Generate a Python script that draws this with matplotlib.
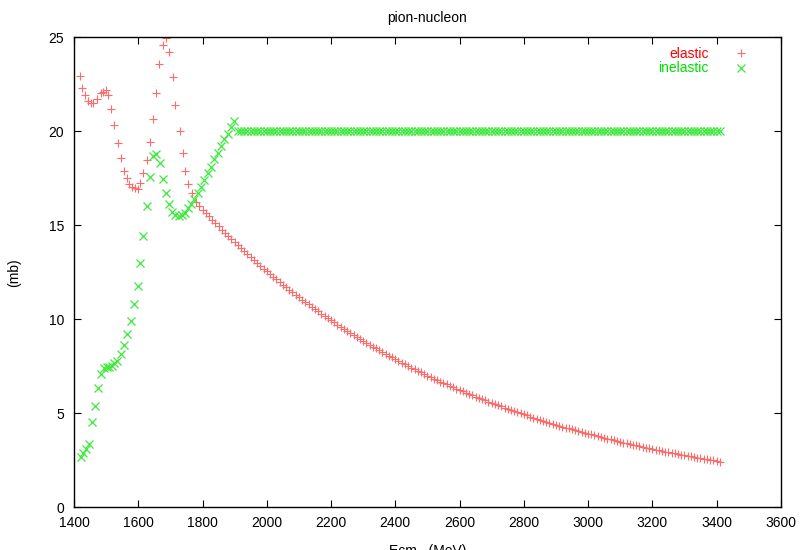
import numpy as np
import matplotlib
matplotlib.use("Agg")
import matplotlib.pyplot as plt

plt.rcParams['font.family'] = ['Liberation Sans', 'DejaVu Sans']

# elastic cross section, resonance region (MeV, mb)
el_e = [1418, 1426, 1434, 1445, 1454, 1460, 1471, 1484, 1491, 1499,
        1507, 1514, 1525, 1537, 1546, 1556, 1564, 1572, 1580, 1589,
        1598, 1606, 1616, 1626, 1636, 1647, 1656, 1666, 1678, 1687,
        1696, 1707, 1715, 1729, 1738, 1746, 1756, 1767, 1780]
el_mb = [22.93, 22.3, 21.9, 21.6, 21.5, 21.5, 21.7, 22.0, 22.1, 22.2,
         21.9, 21.2, 20.3, 19.35, 18.55, 17.9, 17.5, 17.2, 17.05, 17.0,
         16.95, 17.25, 17.75, 18.45, 19.4, 20.65, 22.05, 23.55, 24.6, 24.95,
         24.2, 22.9, 21.4, 20.0, 18.85, 17.9, 17.2, 16.7, 16.25]

# elastic cross section above the resonances, 10 MeV steps from 1790 to 3410
tail_e = np.arange(1790, 3411, 10)
tail_mb = [16.01, 15.83, 15.65, 15.47, 15.29, 15.11, 14.94, 14.76, 14.59, 14.42,
           14.26, 14.09, 13.93, 13.77, 13.61, 13.45, 13.30, 13.14, 12.99, 12.84,
           12.69, 12.55, 12.40, 12.26, 12.12, 11.98, 11.84, 11.70, 11.57, 11.43,
           11.30, 11.17, 11.04, 10.91, 10.79, 10.66, 10.54, 10.42, 10.30, 10.18,
           10.06, 9.94, 9.83, 9.71, 9.60, 9.49, 9.38, 9.27, 9.16, 9.06,
           8.95, 8.85, 8.75, 8.65, 8.55, 8.45, 8.35, 8.25, 8.16, 8.06,
           7.97, 7.88, 7.79, 7.70, 7.61, 7.52, 7.43, 7.35, 7.26, 7.18,
           7.09, 7.01, 6.93, 6.85, 6.77, 6.69, 6.62, 6.54, 6.46, 6.39,
           6.31, 6.24, 6.17, 6.10, 6.03, 5.96, 5.89, 5.82, 5.75, 5.69,
           5.62, 5.56, 5.49, 5.43, 5.37, 5.30, 5.24, 5.18, 5.12, 5.06,
           5.00, 4.95, 4.89, 4.83, 4.78, 4.72, 4.67, 4.61, 4.56, 4.51,
           4.46, 4.40, 4.35, 4.30, 4.25, 4.20, 4.16, 4.11, 4.06, 4.01,
           3.97, 3.92, 3.88, 3.83, 3.79, 3.74, 3.70, 3.66, 3.62, 3.57,
           3.53, 3.49, 3.45, 3.41, 3.37, 3.33, 3.30, 3.26, 3.22, 3.18,
           3.15, 3.11, 3.08, 3.04, 3.01, 2.97, 2.94, 2.90, 2.87, 2.84,
           2.80, 2.77, 2.74, 2.71, 2.68, 2.65, 2.61, 2.58, 2.56, 2.53,
           2.50, 2.47, 2.44]

# inelastic cross section (MeV, mb)
inel_e = [1421, 1428, 1436, 1447, 1455, 1465, 1476, 1485, 1494, 1502,
          1509, 1518, 1526, 1535, 1546, 1556, 1566, 1577, 1587, 1598,
          1605, 1615, 1626, 1636, 1647, 1655, 1667, 1676, 1686, 1697,
          1705, 1715, 1726, 1736, 1744, 1754, 1765, 1775, 1785, 1795,
          1806, 1816, 1827, 1837, 1848, 1858, 1868, 1878, 1889, 1899]
inel_mb = [2.7, 2.91, 3.1, 3.4, 4.53, 5.41, 6.33, 7.09, 7.40, 7.48,
           7.48, 7.53, 7.66, 7.8, 8.14, 8.63, 9.22, 9.91, 10.8, 11.77,
           13.0, 14.43, 16.02, 17.58, 18.68, 18.78, 18.29, 17.45, 16.69, 16.13,
           15.72, 15.54, 15.49, 15.54, 15.66, 15.9, 16.11, 16.38, 16.69, 17.05,
           17.4, 17.76, 18.1, 18.5, 18.85, 19.2, 19.56, 19.85, 20.2, 20.55]
# constant 20 mb above 1.9 GeV
flat_e = np.arange(1910, 3411, 10)
flat_mb = [20.0] * len(flat_e)

elastic_e = list(el_e) + list(tail_e)
elastic_mb = list(el_mb) + list(tail_mb)
inelastic_e = list(inel_e) + list(flat_e)
inelastic_mb = list(inel_mb) + list(flat_mb)

fig = plt.figure(figsize=(8, 5.5), dpi=100)
ax = fig.add_axes([0.0925, 0.0773, 0.8835, 0.8554])

ax.plot(elastic_e, elastic_mb, '+', color='#ff6a6a', ms=6, mew=0.8,
        label='elastic')
ax.plot(inelastic_e, inelastic_mb, 'x', color='#3ce83c', ms=6, mew=0.9,
        label='inelastic')

ax.set_xlim(1400, 3600)
ax.set_ylim(0, 25)
ax.set_xticks(range(1400, 3601, 200))
ax.set_yticks(range(0, 26, 5))
ax.tick_params(direction='in', length=5, width=0.8, top=True, right=True,
               labelsize=10)
ax.tick_params(axis='x', pad=6)
ax.tick_params(axis='y', pad=7)
for s in ax.spines.values():
    s.set_linewidth(1.0)

ax.set_title('pion-nucleon', fontsize=10, pad=11)
# axis label sits low, partly below the bottom edge of the figure
ax.set_xlabel('Ecm   (MeV)', fontsize=10, labelpad=10)
ax.set_ylabel('(mb)', fontsize=10, labelpad=20)

ax.legend(loc='upper right', frameon=False, markerfirst=False,
          labelcolor=['#ff0000', '#00e000'], fontsize=10,
          bbox_to_anchor=(0.967, 1.0), handlelength=1.0, handletextpad=1.8,
          labelspacing=0.05, borderaxespad=0.3)

fig.savefig('out.png', dpi=100)
